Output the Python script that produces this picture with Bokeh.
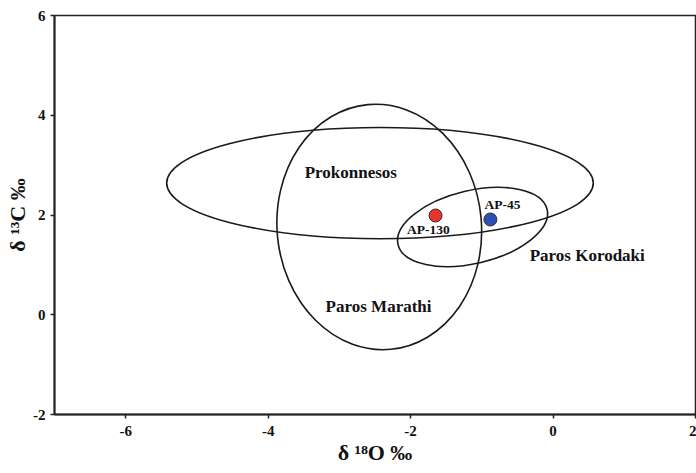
from bokeh.plotting import figure
from bokeh.models import ColumnDataSource, FixedTicker, Range1d, Label
from bokeh.embed import file_html
from bokeh.resources import INLINE

# ---- data ----
x_ticks = [-6, -4, -2, 0, 2]
y_ticks = [-2, 0, 2, 4, 6]

field_names = ["Prokonnesos", "Paros Marathi", "Paros Korodaki"]
field_cx = [-2.43, -2.44, -1.13]
field_cy = [2.64, 1.76, 1.76]
field_w = [5.99, 2.87, 2.15]
field_h = [2.23, 4.93, 1.463]
field_angle = [0.0, 0.094, 0.232]
field_label_x = [-2.84, -2.45, 0.48]
field_label_y = [2.85, 0.16, 1.19]

sample_names = ["AP-130", "AP-45"]
sample_d18O = [-1.65, -0.88]
sample_d13C = [1.99, 1.91]
sample_colors = ["#e8342b", "#2c50b2"]
sample_label_x = [-1.75, -0.71]
sample_label_y = [1.71, 2.21]

FONT = "Liberation Serif"

p = figure(width=696, height=473, output_backend="svg", toolbar_location=None,
           x_range=Range1d(-7, 2), y_range=Range1d(-2, 6),
           min_border_left=54, min_border_right=1, min_border_top=15, min_border_bottom=59)
p.grid.visible = False
p.background_fill_color = "white"
p.border_fill_color = "white"
p.outline_line_color = "#222222"
p.outline_line_width = 1.5

fields = ColumnDataSource(dict(x=field_cx, y=field_cy, w=field_w, h=field_h, a=field_angle))
p.ellipse(x="x", y="y", width="w", height="h", angle="a", source=fields,
          fill_color=None, line_color="#1a1a1a", line_width=1.6)

samples = ColumnDataSource(dict(x=sample_d18O, y=sample_d13C, c=sample_colors))
p.scatter(x="x", y="y", size=13, fill_color="c", line_color="#333333", line_width=1,
          source=samples)

for name, lx, ly in zip(field_names, field_label_x, field_label_y):
    p.add_layout(Label(x=lx, y=ly, text=name, text_font=FONT, text_font_style="bold",
                       text_font_size="17px", text_align="center", text_baseline="middle",
                       text_color="#111111"))
for name, lx, ly in zip(sample_names, sample_label_x, sample_label_y):
    p.add_layout(Label(x=lx, y=ly, text=name, text_font=FONT, text_font_style="bold",
                       text_font_size="13.5px", text_align="center", text_baseline="middle",
                       text_color="#111111"))

for ax in (p.xaxis, p.yaxis):
    ax.axis_line_width = 2
    ax.axis_line_color = "#222222"
    ax.major_tick_line_color = "#222222"
    ax.major_tick_line_width = 1.5
    ax.major_tick_out = 4
    ax.major_tick_in = 0
    ax.minor_tick_line_color = None
    ax.major_label_text_font = FONT
    ax.major_label_text_font_style = "bold"
    ax.major_label_text_font_size = "15px"
    ax.major_label_text_color = "#111111"
    ax.axis_label_text_font = FONT
    ax.axis_label_text_font_style = "bold"
    ax.axis_label_text_font_size = "22px"
    ax.axis_label_text_color = "#111111"

p.xaxis.ticker = FixedTicker(ticks=x_ticks)
p.yaxis.ticker = FixedTicker(ticks=y_ticks)
p.xaxis.major_label_overrides = {t: str(t) for t in x_ticks}
p.yaxis.major_label_overrides = {t: str(t) for t in y_ticks}
p.xaxis.major_label_standoff = 7
p.yaxis.major_label_standoff = 5
p.xaxis.axis_label = "δ ¹⁸O ‰"
p.yaxis.axis_label = "δ ¹³C ‰"
p.xaxis.axis_label_standoff = 1
p.yaxis.axis_label_standoff = 0

open("out.html", "w").write(file_html(p, INLINE))
